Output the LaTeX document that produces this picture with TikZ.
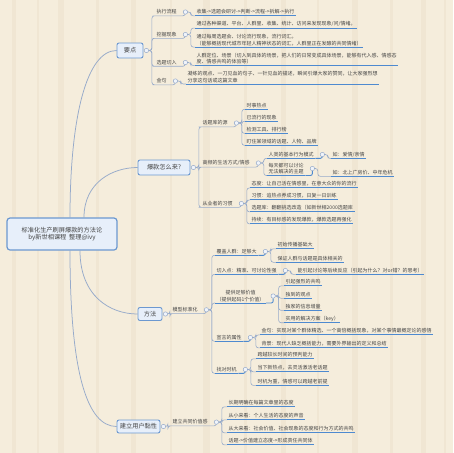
\documentclass[tikz,border=0pt]{standalone}
\usepackage{fontspec}
\newfontfamily\cjk{Noto Sans CJK SC}
\usetikzlibrary{calc,backgrounds}
\definecolor{bgc}{RGB}{245,237,220}
\definecolor{bgd}{RGB}{236,225,204}
\definecolor{txt}{RGB}{68,68,68}
\definecolor{boxb}{RGB}{108,152,208}
\definecolor{boxf}{RGB}{231,239,250}
\definecolor{connc}{RGB}{150,170,202}
\definecolor{ulc}{RGB}{78,138,208}
\definecolor{togf}{RGB}{240,244,250}
\tikzset{
  conn/.style={draw=connc, line width=0.6pt, rounded corners=2.5pt},
  rootconn/.style={draw=connc, line width=0.75pt},
  uline/.style={draw=ulc, line width=0.9pt},
  mainbox/.style={draw=boxb, fill=boxf, line width=0.9pt, rounded corners=2pt, text=txt, font=\cjk\fontsize{6.2}{7.6}\selectfont, inner sep=1pt, align=center},
  rootbox/.style={mainbox, line width=1.2pt, rounded corners=3pt},
  tog/.style={circle, draw=connc, fill=togf, line width=0.5pt, minimum size=4.4pt, inner sep=0pt},
  sub/.style={anchor=west, text=txt, font=\cjk\fontsize{5}{6.4}\selectfont, inner xsep=1.5pt, inner ysep=1.3pt, align=center},
  leaf/.style={sub, align=left, append after command={(\tikzlastnode.south west) edge[uline] (\tikzlastnode.south east)}},
}
\begin{document}
\begin{tikzpicture}[x=1pt,y=-1pt]
\useasboundingbox (0,0) rectangle (453,453);
\begin{scope}[on background layer]
\fill[bgc] (0,0) rectangle (453,453);
\foreach \a/\w in {12/4,37/2,58/6,96/3,131/5,170/2,203/7,244/3,281/5,317/2,352/6,390/3,421/5,444/2}
  \fill[bgd, opacity=0.55] (\a,0) rectangle (\a+\w,453);
\end{scope}

% root and main topics
\node[rootbox, minimum width=110pt, minimum height=32pt] (root) at (62,234) {标准化生产刷屏爆款的方法论\\by新世相课程\ \ 整理@ivy};
\node[mainbox, minimum width=26pt, minimum height=15pt] (yd) at (130,50.5) {要点};
\node[tog] (ydc) at ($(yd.east)+(3,0)$) {};
\node[mainbox, minimum width=52pt, minimum height=15pt] (bk) at (164,167.5) {爆款怎么来?};
\node[tog] (bkc) at ($(bk.east)+(3,0)$) {};
\node[mainbox, minimum width=24pt, minimum height=13pt] (ff) at (150,314) {方法};
\node[tog] (ffc) at ($(ff.east)+(3,0)$) {};
\node[mainbox, minimum width=43pt, minimum height=13pt] (jl) at (138.5,426.5) {建立用户黏性};
\node[tog] (jlc) at ($(jl.east)+(3,0)$) {};

% 要点
\node[sub] (a1) at (155,12) {执行流程};
\node[sub] (a2) at (155,34.5) {挖掘现象};
\node[sub] (a3) at (155,62.5) {选题切入};
\node[sub] (a4) at (155,81) {金句};
\foreach \n in {a1,a2,a3,a4} \node[tog] (\n c) at ($(\n.east)+(7,0)$) {};
\node[leaf] (a1l) at (195,12) {收集->选题会研讨->判断->流程->拆解->执行};
\node[leaf] (a2l1) at (195,24) {通过各种渠道、平台、人群里、收集、统计、访问来发现现象/问/情绪。};
\node[leaf] (a2l2) at (195,40) {通过每周选题会、讨论流行现象，流行词汇。\\（能够概括现代城市年轻人精神状态的词汇，人群里正在发酵的共同情绪）};
\node[leaf] (a3l) at (195,58.5) {人群定位、场景（切入到具体的场景，把人们的日常变成具体场景，能够有代入感、情感态\\度、情感共鸣的体验等）};
\node[leaf] (a4l) at (186,77) {凝练的观点、一刀见血的句子、一针见血的描述，瞬间引爆大家的赞同，让大家强烈想\\分享这句话或这篇文章};

% 爆款怎么来
\node[sub] (b1) at (201,123) {话题库的源};
\node[sub] (b2) at (201,163) {高频的生活方式/情感};
\node[sub] (b3) at (201,203.5) {从业者的习惯};
\foreach \n in {b1,b2,b3} \node[tog] (\n c) at ($(\n.east)+(7,0)$) {};
\node[leaf] (b1l1) at (245,105.5) {时事热点};
\node[leaf] (b1l2) at (245,117.5) {已流行的现象};
\node[leaf] (b1l3) at (245,129.5) {检测工具、排行榜};
\node[leaf] (b1l4) at (245,141.5) {盯住某领域的话题、人物、品牌};
\node[leaf] (b2s1) at (267,154.5) {人类的基本行为模式};
\node[leaf] (b2s2) at (267,168.5) {每天都可以讨论\\无法解决的主题};
\foreach \n in {b2s1,b2s2} \node[tog] (\n c) at ($(\n.east)+(7,0)$) {};
\node[leaf] (b2s1l) at (331,154.5) {如：爱情/亲情};
\node[leaf] (b2s2l) at (331,172.5) {如：北上广房价、中年危机};
\node[leaf] (b3l1) at (250,184) {态度：让自己活在情感里，在意大众的你的流行};
\node[leaf] (b3l2) at (250,196) {习惯：追热点养成习惯，日复一日训练};
\node[leaf] (b3l3) at (250,208) {选题库：翻翻挑选改造（如新世相2000选题库};
\node[leaf] (b3l4) at (250,220) {持续：有目标感的发现爆款，爆款选题再强化};

% 方法
\node[sub] (c0) at (171,309.8) {模型标准化};
\node[tog] (c0c) at ($(c0.east)+(7,0)$) {};
\node[leaf] (c1) at (215,251.5) {覆盖人群：足够大};
\node[leaf] (c2) at (215,270.5) {切入点：精准、可讨论性强};
\node[leaf, align=center] (c3) at (215,296) {提供足够价值\\（提供起码1个价值）};
\node[leaf] (c4) at (215,337.5) {宣言的属性};
\node[leaf] (c5) at (215,369.5) {找对时机};
\foreach \n in {c1,c2,c3,c4,c5} \node[tog] (\n c) at ($(\n.east)+(7,0)$) {};
\node[leaf] (c1l1) at (276,245) {初始传播基础大};
\node[leaf] (c1l2) at (276,258.5) {保证人群与话题是具体相关的};
\node[leaf] (c2l) at (296,270.5) {能引起讨论等后续反应（引起为什么？对or错？的思考）};
\node[leaf] (c3l1) at (284,282) {引起强烈的共鸣};
\node[leaf] (c3l2) at (284,294.5) {独到的观点};
\node[leaf] (c3l3) at (284,306.5) {独家的信息增量};
\node[leaf] (c3l4) at (284,318.5) {实用的解决方案（key）};
\node[leaf] (c4l1) at (260,331) {金句：实现对某个群体精选、一个高倍概括现象，对某个事情最概定论的感悟};
\node[leaf] (c4l2) at (260,344) {背景：现代人缺乏概括能力，需要外界输出的定义和总结};
\node[leaf] (c5l1) at (256,355) {跨越较长时间的预判能力};
\node[leaf] (c5l2) at (256,368) {当下新热点，去灵活激活老话题};
\node[leaf] (c5l3) at (256,381.5) {时机为重，情感可以跨越老前提};

% 建立用户黏性
\node[sub] (d0) at (171,422.1) {建立共同价值感};
\node[tog] (d0c) at ($(d0.east)+(7,0)$) {};
\node[leaf] (d1) at (227,403) {长期明确在每篇文章里的态度};
\node[leaf] (d2) at (227,416) {从小来看：个人生活的态度的声音};
\node[leaf] (d3) at (227,429) {从大来看：社会价值、社会现象的态度和行为方式的共鸣};
\node[leaf] (d4) at (227,441) {话题->价值建立态度->形成责任共同体};

\begin{scope}[on background layer]
% root connectors
\draw[rootconn] ($(root.north)+(8,0)$) .. controls +(0,-100) and +(-30,0) .. (yd.west);
\draw[rootconn] ($(root.north)+(22,0)$) .. controls +(0,-35) and +(-25,0) .. (bk.west);
\draw[rootconn] ($(root.south)+(18,0)$) .. controls +(0,45) and +(-28,0) .. (ff.west);
\draw[rootconn] ($(root.south)+(8,0)$) .. controls +(0,120) and +(-30,0) .. (jl.west);
% 要点
\foreach \n in {a1,a2,a3,a4}
  \draw[conn] (ydc.east) -- ++(3,0) |- (\n.south west) -| (\n c.south);
\draw[conn] (a1c.east) -- ++(3,0) |- (a1l.south west);
\draw[conn] (a2c.east) -- ++(3,0) |- (a2l1.south west);
\draw[conn] (a2c.east) -- ++(3,0) |- (a2l2.south west);
\draw[conn] (a3c.east) -- ++(3,0) |- (a3l.south west);
\draw[conn] (a4c.east) -- ++(3,0) |- (a4l.south west);
% 爆款
\foreach \n in {b1,b2,b3}
  \draw[conn] (bkc.east) -- ++(3,0) |- (\n.south west) -| (\n c.south);
\foreach \n in {b1l1,b1l2,b1l3,b1l4}
  \draw[conn] (b1c.east) -- ++(3,0) |- (\n.south west);
\foreach \n in {b2s1,b2s2}{
  \draw[conn] (b2c.east) -- ++(3,0) |- (\n.south west);
  \draw[uline, rounded corners=2pt] (\n.south east) -| (\n c.south);
  \draw[conn] (\n c.east) -- ++(3,0) |- (\n l.south west);
}
\foreach \n in {b3l1,b3l2,b3l3,b3l4}
  \draw[conn] (b3c.east) -- ++(3,0) |- (\n.south west);
% 方法
\draw[conn] (ffc.east) -- ++(2,0) |- (c0.south west) -| (c0c.south);
\foreach \n in {c1,c2,c3,c4,c5}{
  \draw[conn] (c0c.east) -- ++(3,0) |- (\n.south west);
  \draw[uline, rounded corners=2pt] (\n.south east) -| (\n c.south);
}
\foreach \n in {c1l1,c1l2} \draw[conn] (c1c.east) -- ++(3,0) |- (\n.south west);
\draw[conn] (c2c.east) -- ++(3,0) |- (c2l.south west);
\foreach \n in {c3l1,c3l2,c3l3,c3l4} \draw[conn] (c3c.east) -- ++(3,0) |- (\n.south west);
\foreach \n in {c4l1,c4l2} \draw[conn] (c4c.east) -- ++(3,0) |- (\n.south west);
\foreach \n in {c5l1,c5l2,c5l3} \draw[conn] (c5c.east) -- ++(3,0) |- (\n.south west);
% 建立用户黏性
\draw[conn] (jlc.east) -- ++(2,0) |- (d0.south west) -| (d0c.south);
\foreach \n in {d1,d2,d3,d4} \draw[conn] (d0c.east) -- ++(3,0) |- (\n.south west);
\end{scope}
\end{tikzpicture}
\end{document}
